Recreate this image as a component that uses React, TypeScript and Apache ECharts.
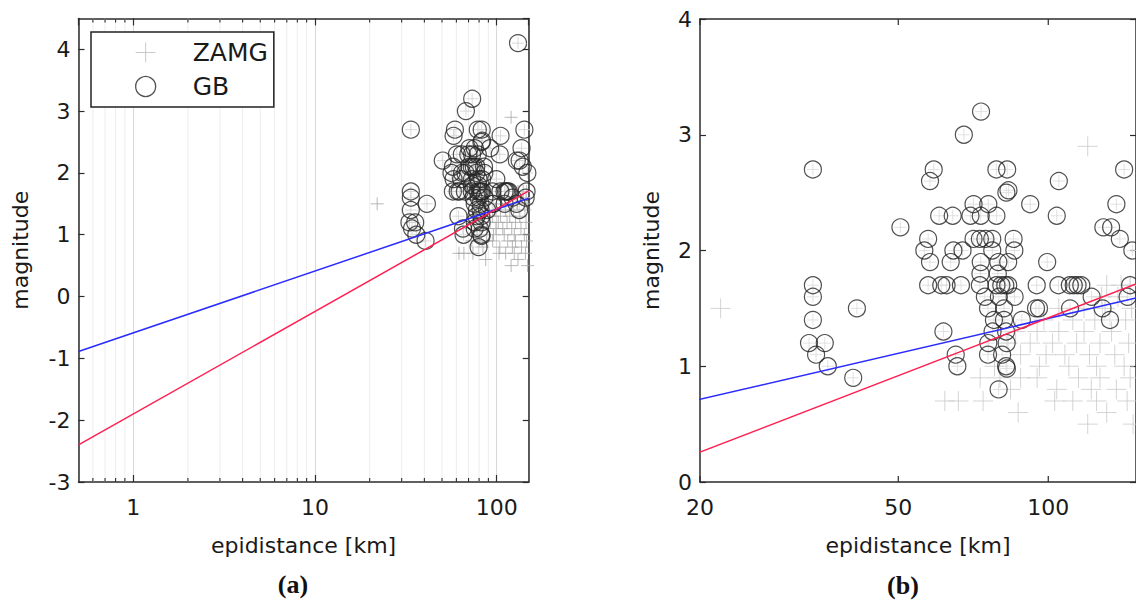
import React, { useEffect, useRef } from "react";
import * as echarts from "echarts";

const SANS = "'DejaVu Sans', 'Liberation Sans', sans-serif";
const SERIF = "'Liberation Serif', 'DejaVu Serif', serif";

// GB catalogue: [epicentral distance km, magnitude]
const gbEvents: [number, number][] = [
  [73.3, 3.2], [67.7, 3.0],
  [33.7, 2.7], [58.9, 2.7], [78.7, 2.7], [82.7, 2.7], [142, 2.7],
  [57.9, 2.6], [105, 2.6],
  [82.4, 2.5], [83.2, 2.52],
  [70.8, 2.4], [75.8, 2.4], [92, 2.4], [137, 2.4],
  [60.4, 2.3], [64.3, 2.3], [69.8, 2.3], [73.2, 2.3], [78.7, 2.3], [104, 2.3],
  [50.5, 2.2], [129, 2.2], [133.7, 2.2],
  [57.4, 2.1], [70.8, 2.1], [72.9, 2.1], [74.8, 2.1], [77.2, 2.1], [85.2, 2.1], [139.2, 2.1],
  [56.4, 2.0], [64.5, 2.0], [67.3, 2.0], [77.2, 2.0], [85.5, 2.0], [147.5, 2.0],
  [57.9, 1.9], [63.7, 1.9], [73.2, 1.9], [79.4, 1.9], [83.1, 1.9], [99.5, 1.9],
  [73.1, 1.8], [79.2, 1.8],
  [33.7, 1.7], [57.4, 1.7], [61, 1.7], [62.5, 1.7], [66.8, 1.7], [72.9, 1.7], [78.7, 1.7],
  [80.5, 1.7], [82, 1.7], [83.1, 1.7], [94.8, 1.7], [104.8, 1.7], [110.5, 1.7], [112.5, 1.7],
  [114.5, 1.7], [116.5, 1.7], [146, 1.7],
  [33.7, 1.6], [74.6, 1.6], [79.6, 1.6], [85.6, 1.6], [122.2, 1.6], [144.3, 1.6],
  [41.3, 1.5], [75.7, 1.5], [81.5, 1.5], [94.5, 1.5], [95.8, 1.5], [110.6, 1.5], [128.5, 1.5],
  [33.7, 1.4], [77.8, 1.4], [81.5, 1.4], [88.5, 1.4], [133, 1.4],
  [61.6, 1.3], [77.3, 1.3], [82.3, 1.3],
  [33.1, 1.2], [35.6, 1.2], [75.8, 1.2], [82.5, 1.2],
  [34.2, 1.1], [65.2, 1.1], [75.7, 1.1], [80.8, 1.1],
  [36.1, 1.0], [65.7, 1.0], [82.3, 1.0], [82.6, 0.98],
  [40.6, 0.9],
  [79.5, 0.8],
  [131, 4.1],
];

// ZAMG catalogue: [epicentral distance km, magnitude]
const zamgEvents: [number, number][] = [
  [22, 1.5], [120, 2.9],
  [131, 1.7], [140, 1.7], [146, 1.7],
  [128, 1.6], [138, 1.6],
  [105, 1.5], [118, 1.5], [130, 1.5], [147, 1.5],
  [98, 1.4], [112, 1.4], [124, 1.4], [143, 1.4],
  [86, 1.3], [95, 1.3], [105, 1.3], [118, 1.3], [134, 1.3],
  [83, 1.2], [92, 1.2], [102, 1.2], [114, 1.2], [127, 1.2], [145, 1.2],
  [88, 1.1], [99, 1.1], [108, 1.1], [121, 1.1], [136, 1.1],
  [78, 1.0], [96, 1.0], [110, 1.0], [125, 1.0], [142, 1.0],
  [73, 0.9], [80, 0.9], [88, 0.9], [95, 0.9], [115, 0.9], [127, 0.9], [146, 0.9],
  [84, 0.8], [104, 0.8], [122, 0.8], [137, 0.8],
  [62, 0.7], [66, 0.7], [74, 0.7], [103, 0.7], [112, 0.7], [125, 0.7], [144, 0.7],
  [87, 0.6], [131, 0.6],
  [120, 0.5], [148, 0.5],
];

// regression lines (end points)
const fitDistance = [0.5, 150];
const fitBlue = [-0.89, 1.59];
const fitRed = [-2.4, 1.71];

// axes
const xRangeA = [0.5, 150];
const yRangeA = [-3, 4.5];
const xRangeB = [20, 150];
const yRangeB = [0, 4];
const xMinorA = [0.6, 0.7, 0.8, 0.9, 2, 3, 4, 5, 6, 7, 8, 9, 20, 30, 40, 50, 60, 70, 80, 90];
const xTicksB = [20, 50, 100];

const CROSS = "path://M5,0L5,10M0,5L10,5";
const FRAME = "#2b2b2b";
const TXT = "#1a1a1a";

function buildOption() {
  const labelStyle = { fontSize: 22, fontFamily: SANS, color: TXT, lineHeight: 22 };
  const nameStyle = { fontSize: 22, fontFamily: SANS, color: TXT, lineHeight: 22 };
  const line = { onZero: false, lineStyle: { color: FRAME, width: 1.5 } };
  const tickIn = (len: number) => ({ inside: true, length: len, lineStyle: { color: FRAME, width: 1.2 } });

  const xAxis: any[] = [
    {
      gridIndex: 0, type: "log", logBase: 10, min: xRangeA[0], max: xRangeA[1], position: "bottom",
      axisLine: line, axisTick: tickIn(7),
      axisLabel: { ...labelStyle, margin: 14, showMinLabel: false, showMaxLabel: false },
      splitLine: { show: true, lineStyle: { color: "#d8d8d8", width: 1 } },
      name: "epidistance [km]", nameLocation: "middle", nameGap: 52, nameTextStyle: nameStyle,
    },
    {
      gridIndex: 0, type: "log", logBase: 10, min: xRangeA[0], max: xRangeA[1], position: "top",
      axisLine: line, axisTick: tickIn(7), axisLabel: { show: false }, splitLine: { show: false },
    },
    {
      gridIndex: 1, type: "log", logBase: 10, min: xRangeB[0], max: xRangeB[1], position: "bottom",
      axisLine: line, axisTick: { show: false }, axisLabel: { show: false }, splitLine: { show: false },
      name: "epidistance [km]", nameLocation: "middle", nameGap: 52, nameTextStyle: nameStyle,
    },
    {
      gridIndex: 1, type: "log", logBase: 10, min: xRangeB[0], max: xRangeB[1], position: "top",
      axisLine: line, axisTick: { show: false }, axisLabel: { show: false }, splitLine: { show: false },
    },
  ];

  const yAxis: any[] = [
    {
      gridIndex: 0, type: "value", min: yRangeA[0], max: yRangeA[1], interval: 1, position: "left",
      axisLine: line, axisTick: tickIn(6),
      axisLabel: { ...labelStyle, margin: 8, showMaxLabel: false },
      splitLine: { show: false },
      name: "magnitude", nameLocation: "middle", nameGap: 47, nameTextStyle: nameStyle,
    },
    {
      gridIndex: 0, type: "value", min: yRangeA[0], max: yRangeA[1], interval: 1, position: "right",
      axisLine: line, axisTick: tickIn(6), axisLabel: { show: false }, splitLine: { show: false },
    },
    {
      gridIndex: 1, type: "value", min: yRangeB[0], max: yRangeB[1], interval: 1, position: "left",
      axisLine: line, axisTick: tickIn(6),
      axisLabel: { ...labelStyle, margin: 8 },
      splitLine: { show: false },
      name: "magnitude", nameLocation: "middle", nameGap: 38, nameTextStyle: nameStyle,
    },
    {
      gridIndex: 1, type: "value", min: yRangeB[0], max: yRangeB[1], interval: 1, position: "right",
      axisLine: line, axisTick: tickIn(6), axisLabel: { show: false }, splitLine: { show: false },
    },
  ];

  const minorGridA = {
    type: "custom", name: "minorGridA", xAxisIndex: 0, yAxisIndex: 0, silent: true, z: 1,
    data: xMinorA.map((v) => [v, yRangeA[0]]),
    renderItem: (_p: any, api: any) => {
      const v = api.value(0);
      const b = api.coord([v, yRangeA[0]]);
      const t = api.coord([v, yRangeA[1]]);
      return { type: "line", shape: { x1: b[0], y1: b[1], x2: t[0], y2: t[1] }, style: { stroke: "#ededed", lineWidth: 1 } };
    },
  };

  const minorTicksA = {
    type: "custom", name: "minorTicksA", xAxisIndex: 0, yAxisIndex: 0, silent: true, z: 6,
    data: xMinorA.map((v) => [v, yRangeA[0]]),
    renderItem: (_p: any, api: any) => {
      const v = api.value(0);
      const b = api.coord([v, yRangeA[0]]);
      const t = api.coord([v, yRangeA[1]]);
      return {
        type: "group",
        children: [
          { type: "line", shape: { x1: b[0], y1: b[1], x2: b[0], y2: b[1] - 4 }, style: { stroke: FRAME, lineWidth: 1.1 } },
          { type: "line", shape: { x1: t[0], y1: t[1], x2: t[0], y2: t[1] + 4 }, style: { stroke: FRAME, lineWidth: 1.1 } },
        ],
      };
    },
  };

  const ticksB = {
    type: "custom", name: "ticksB", xAxisIndex: 2, yAxisIndex: 2, silent: true, z: 6,
    data: xTicksB.map((v) => [v, yRangeB[0]]),
    renderItem: (_p: any, api: any) => {
      const v = api.value(0);
      const b = api.coord([v, yRangeB[0]]);
      const t = api.coord([v, yRangeB[1]]);
      return {
        type: "group",
        children: [
          { type: "line", shape: { x1: b[0], y1: b[1], x2: b[0], y2: b[1] - 6 }, style: { stroke: FRAME, lineWidth: 1.2 } },
          { type: "line", shape: { x1: t[0], y1: t[1], x2: t[0], y2: t[1] + 6 }, style: { stroke: FRAME, lineWidth: 1.2 } },
          {
            type: "text", x: b[0], y: b[1] + 14,
            style: {
              text: String(v), fill: TXT, fontSize: 22, fontFamily: SANS, lineHeight: 22,
              align: "center", verticalAlign: "top",
            },
          },
        ],
      };
    },
  };

  const panelSeries = (xi: number, yi: number, crossSize: number, crossColor: string, centreColor: string) => [
    {
      type: "scatter", name: "ZAMG", xAxisIndex: xi, yAxisIndex: yi, z: 2,
      symbol: CROSS, symbolSize: crossSize,
      itemStyle: { color: "rgba(0,0,0,0)", borderColor: crossColor, borderWidth: 1 },
      data: zamgEvents,
    },
    {
      type: "scatter", name: "GB centre", xAxisIndex: xi, yAxisIndex: yi, z: 2,
      symbol: CROSS, symbolSize: 12,
      itemStyle: { color: "rgba(0,0,0,0)", borderColor: centreColor, borderWidth: 1 },
      data: gbEvents,
    },
    {
      type: "scatter", name: "GB", xAxisIndex: xi, yAxisIndex: yi, z: 3,
      symbol: "circle", symbolSize: 17,
      itemStyle: { color: "rgba(0,0,0,0)", borderColor: "#262626", borderWidth: 1.2 },
      data: gbEvents,
    },
    {
      type: "line", name: "fit ZAMG", xAxisIndex: xi, yAxisIndex: yi, z: 4, showSymbol: false, clip: true,
      lineStyle: { color: "#2b2bff", width: 1.5 },
      data: fitDistance.map((d, i) => [d, fitBlue[i]]),
    },
    {
      type: "line", name: "fit GB", xAxisIndex: xi, yAxisIndex: yi, z: 4, showSymbol: false, clip: true,
      lineStyle: { color: "#ff1f50", width: 1.5 },
      data: fitDistance.map((d, i) => [d, fitRed[i]]),
    },
  ];

  return {
    animation: false,
    textStyle: { fontFamily: SANS },
    grid: [
      { left: 78.5, top: 18.4, width: 450.2, height: 463.6 },
      { left: 700, top: 19, width: 438, height: 463 },
    ],
    xAxis,
    yAxis,
    legend: {
      left: 91, top: 32, orient: "vertical",
      backgroundColor: "#ffffff", borderColor: "#222", borderWidth: 1.5, borderRadius: 0,
      padding: [8, 6, 8, 44], itemGap: 9, itemWidth: 20, itemHeight: 20,
      textStyle: { fontSize: 25, fontFamily: SANS, color: TXT, lineHeight: 25, padding: [0, 0, 0, 32] },
      data: [
        { name: "ZAMG", icon: CROSS, itemStyle: { color: "rgba(0,0,0,0)", borderColor: "#bdbdbd", borderWidth: 1 } },
        { name: "GB", icon: "circle", itemStyle: { color: "rgba(0,0,0,0)", borderColor: "#262626", borderWidth: 1.3 } },
      ],
      selectedMode: false,
    },
    graphic: [
      {
        type: "text", x: 293, y: 584,
        style: { text: "(a)", fill: "#111", fontSize: 26, fontWeight: "bold", fontFamily: SERIF, align: "center", verticalAlign: "middle", textAlign: "center", textVerticalAlign: "middle" },
      },
      {
        type: "text", x: 903, y: 585,
        style: { text: "(b)", fill: "#111", fontSize: 26, fontWeight: "bold", fontFamily: SERIF, align: "center", verticalAlign: "middle", textAlign: "center", textVerticalAlign: "middle" },
      },
    ],
    series: [
      minorGridA,
      minorTicksA,
      ...panelSeries(0, 0, 13, "#a6a6a6", "#cfcfcf"),
      ticksB,
      ...panelSeries(2, 2, 20, "#c9c9c9", "#dadada"),
    ],
  };
}

export default function App() {
  const ref = useRef<HTMLDivElement>(null);
  useEffect(() => {
    const chart = echarts.init(ref.current as HTMLDivElement, null, { renderer: "svg" });
    chart.setOption(buildOption() as any);
    return () => chart.dispose();
  }, []);
  return (
    <div
      ref={ref}
      style={{ position: "absolute", left: 0, top: 0, width: 1136, height: 600, background: "#ffffff" }}
    />
  );
}
